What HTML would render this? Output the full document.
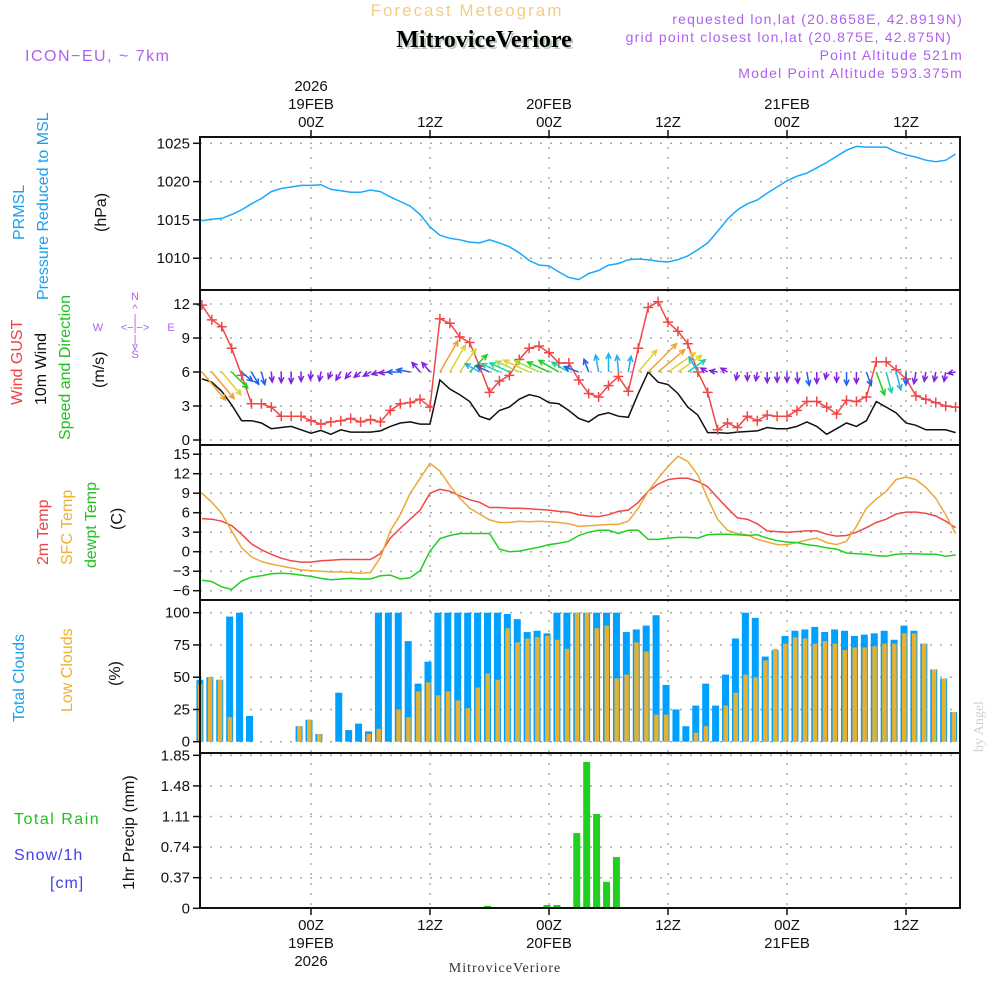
<!DOCTYPE html>
<html><head><meta charset="utf-8"><style>
html,body{margin:0;padding:0;background:#fff;}
svg{display:block;font-family:"Liberation Sans",sans-serif;}
.t{font-size:15px;fill:#111;}
.n{font-family:"Liberation Sans Narrow","Liberation Sans",sans-serif;}
</style></head><body>
<svg id="chart" width="1000" height="1000" viewBox="0 0 1000 1000" xmlns="http://www.w3.org/2000/svg">
<text x="467" y="16" text-anchor="middle" font-size="17" fill="#f5cd85" letter-spacing="2">Forecast Meteogram</text>
<text x="486" y="49" text-anchor="middle" font-size="24" font-weight="bold" font-family="Liberation Serif,serif" fill="#b9cbb9">MitroviceVeriore</text>
<text x="484" y="47" text-anchor="middle" font-size="24" font-weight="bold" font-family="Liberation Serif,serif" fill="#000">MitroviceVeriore</text>
<text x="25" y="61" font-size="16" fill="#b060f0" letter-spacing="1.5">ICON−EU, ~ 7km</text>
<g font-size="14" fill="#b060f0" text-anchor="end" letter-spacing="1.2">
<text x="963" y="24">requested lon,lat (20.8658E, 42.8919N)</text>
<text x="952" y="42">grid point closest lon,lat (20.875E, 42.875N)</text>
<text x="963" y="60">Point Altitude 521m</text>
<text x="963" y="78">Model Point Altitude 593.375m</text>
</g>
<g id="grid"></g><g id="marks"></g><g id="axes"></g>
<g class="n" font-size="16">
<text transform="translate(24,240) rotate(-90)" fill="#1aa0f0">PRMSL</text>
<text transform="translate(48,300) rotate(-90)" fill="#1aa0f0">Pressure Reduced to MSL</text>
<text transform="translate(106,232) rotate(-90)" fill="#111">(hPa)</text>
<text transform="translate(22,405) rotate(-90)" fill="#f04040">Wind GUST</text>
<text transform="translate(46,405) rotate(-90)" fill="#111">10m Wind</text>
<text transform="translate(70,440) rotate(-90)" fill="#20c020">Speed and Direction</text>
<text transform="translate(104,388) rotate(-90)" fill="#111">(m/s)</text>
<text transform="translate(48,565) rotate(-90)" fill="#f04040">2m Temp</text>
<text transform="translate(72,565) rotate(-90)" fill="#f0b030">SFC Temp</text>
<text transform="translate(96,568) rotate(-90)" fill="#20c020">dewpt Temp</text>
<text transform="translate(122,530) rotate(-90)" fill="#111">(C)</text>
<text transform="translate(24,722) rotate(-90)" fill="#1aa0f0">Total Clouds</text>
<text transform="translate(72,712) rotate(-90)" fill="#f0b030">Low Clouds</text>
<text transform="translate(120,686) rotate(-90)" fill="#111">(%)</text>
<text x="14" y="824" fill="#20c020" letter-spacing="1.5">Total  Rain</text>
<text x="14" y="860" fill="#4040f0" letter-spacing="1">Snow/1h</text>
<text x="50" y="888" fill="#4040f0" letter-spacing="1">[cm]</text>
<text transform="translate(134,890) rotate(-90)" fill="#111">1hr Precip (mm)</text>
</g>
<g font-size="11" fill="#b060f0" text-anchor="middle">
<text x="135" y="300">N</text><text x="135" y="312">^</text><text x="135" y="322">|</text>
<text x="98" y="331">W</text><text x="135" y="331">&lt;−|−&gt;</text><text x="171" y="331">E</text>
<text x="135" y="343">|</text><text x="135" y="350">v</text><text x="135" y="358">S</text>
</g>
<text transform="translate(983,752) rotate(-90)" font-size="14" font-family="Liberation Serif,serif" fill="#d0d0d0">by Angel</text>
<text x="505" y="972" text-anchor="middle" font-size="14" font-family="Liberation Serif,serif" fill="#333" letter-spacing="1">MitroviceVeriore</text>
</svg>
<script>
const hours=[];for(let h=-11;h<=65;h++)hours.push(h);
const pressure=[1014.9,1015.1,1015.2,1015.7,1016.3,1017.1,1017.8,1018.7,1019.1,1019.3,1019.5,1019.5,1019.6,1019.0,1018.8,1018.6,1018.6,1018.9,1018.7,1018.0,1017.4,1016.8,1015.7,1014.1,1013.0,1012.6,1012.4,1012.1,1012.0,1012.4,1012.0,1011.5,1010.7,1009.7,1009.1,1009.0,1008.2,1007.5,1007.2,1008.0,1008.4,1009.1,1009.3,1009.8,1009.9,1009.8,1009.6,1009.5,1009.8,1010.3,1011.1,1012.0,1013.5,1015.1,1016.3,1017.1,1017.6,1018.5,1019.3,1020.1,1020.7,1021.1,1021.8,1022.5,1023.3,1024.1,1024.6,1024.5,1024.5,1024.5,1023.9,1023.5,1023.2,1022.8,1022.6,1022.8,1023.6];
const gust=[11.9,10.6,10.0,8.1,5.7,3.2,3.2,2.9,2.1,2.1,2.1,1.7,1.4,1.6,1.7,1.9,1.6,1.8,1.6,2.6,3.2,3.3,3.6,2.9,10.7,10.3,9.1,8.6,6.5,4.2,5.2,5.7,7.1,8.1,8.3,7.7,6.8,6.8,5.3,4.1,3.8,4.8,5.6,4.3,8.1,11.7,12.2,10.4,9.6,8.5,6.0,4.2,0.9,1.5,1.1,2.1,1.7,2.2,2.1,2.1,2.6,3.4,3.4,2.9,2.3,3.5,3.4,3.8,6.9,6.9,6.2,5.4,3.9,3.6,3.3,3.0,2.9];
const wind=[5.4,5.1,4.3,3.1,1.7,1.7,1.5,1.0,1.1,1.2,0.9,0.6,0.85,0.5,0.9,0.7,0.7,0.7,0.8,1.2,1.5,1.6,1.4,1.4,5.3,4.5,4.0,3.4,2.1,1.8,2.6,2.9,3.6,4.0,3.8,3.3,3.2,2.6,1.9,1.6,2.2,2.4,2.1,2.0,4.1,6.0,5.1,4.9,4.1,2.9,2.2,0.65,0.65,0.6,0.7,0.75,0.8,1.1,1.0,1.0,1.2,1.6,1.2,0.5,1.0,1.5,1.2,1.7,3.4,2.9,2.4,1.5,1.3,0.9,0.9,0.9,0.65];
const windDir=[140,140,140,135,130,150,165,175,180,180,180,185,190,200,210,220,230,240,255,265,270,280,320,320,30,30,35,45,300,295,295,295,295,295,295,295,300,300,290,340,350,0,355,10,40,45,50,55,55,55,330,300,280,300,190,180,190,180,180,180,175,170,180,190,180,180,180,160,160,165,165,180,190,190,190,190,260];
const t2m=[5.1,5.0,4.7,4.0,2.7,1.2,0.3,-0.4,-1.0,-1.4,-1.6,-1.6,-1.4,-1.3,-1.2,-1.2,-1.2,-1.2,-0.3,2.1,3.6,5.0,6.4,9.0,9.6,9.3,8.6,8.0,7.6,6.8,6.8,6.7,6.7,6.6,6.5,6.4,6.2,6.1,5.7,5.5,5.4,5.7,6.2,6.4,7.6,9.3,10.4,11.1,11.3,11.3,10.8,10.0,8.3,6.7,5.2,5.0,4.3,3.2,3.1,3.0,3.1,3.2,3.2,2.7,2.4,2.5,3.0,3.7,4.5,5.0,5.8,6.1,6.1,5.9,5.5,4.7,3.7];
const tsfc=[9.0,7.6,5.9,3.2,0.6,-0.8,-1.5,-1.9,-2.2,-2.5,-2.8,-2.9,-3.0,-3.1,-3.1,-3.2,-3.3,-3.2,-0.9,3.2,5.7,9.0,11.3,13.6,12.4,10.2,8.2,6.7,5.8,4.9,4.5,4.5,4.7,4.6,4.7,4.6,4.5,4.3,3.9,4.0,4.1,4.2,4.2,4.7,6.7,9.3,11.3,13.1,14.7,13.9,11.8,8.2,5.0,3.3,2.8,2.6,1.9,1.5,1.1,1.1,1.4,1.8,2.1,1.4,1.1,1.6,3.9,6.7,8.1,9.3,11.1,11.5,11.1,9.9,8.2,5.7,2.8];
const tdew=[-4.4,-4.6,-5.4,-5.8,-4.5,-3.9,-3.7,-3.4,-3.3,-3.4,-3.6,-3.8,-4.1,-4.3,-4.2,-4.1,-4.2,-4.2,-3.7,-3.6,-4.2,-4.0,-2.9,0.1,2.0,2.5,2.8,2.8,2.8,2.8,0.4,0.0,0.1,0.4,0.7,1.1,1.3,1.6,2.5,3.0,3.3,3.3,2.8,3.3,3.3,1.9,1.9,2.1,2.2,2.2,2.1,2.6,2.7,2.7,2.6,2.5,2.6,2.1,1.7,1.5,1.4,1.1,0.9,0.6,0.4,-0.2,-0.3,-0.4,-0.6,-0.7,-0.4,-0.3,-0.3,-0.4,-0.4,-0.7,-0.5];
const totalCloud=[48,50,48,97,100,20,0,0,0,0,12,17,6,0,38,9,14,8,100,100,100,78,45,62,100,100,100,100,100,100,100,99,95,85,86,84,100,100,100,100,100,100,100,85,87,90,98,44,25,12,28,45,28,52,80,100,96,66,71,82,86,87,89,85,87,86,82,83,84,86,79,90,86,76,56,49,23];
const lowCloud=[45,50,48,19,0,0,0,0,0,0,12,17,6,0,0,0,0,6,10,0,25,19,39,46,36,39,32,26,42,53,48,88,77,80,81,82,79,72,100,100,88,90,49,52,77,70,21,21,0,0,7,12,0,28,38,52,50,63,72,76,81,80,76,78,76,71,73,73,74,76,76,84,84,76,56,49,23];
const precip=[0,0,0,0,0,0,0,0,0,0,0,0,0,0,0,0,0,0,0,0,0,0,0,0,0,0,0,0,0,0.03,0,0,0,0,0,0.04,0.04,0.016,0.91,1.77,1.14,0.32,0.62,0,0,0,0,0,0,0,0,0,0,0,0,0,0,0,0,0,0,0,0,0,0,0,0,0,0,0,0,0,0,0,0,0,0];
const pTicks=[1010,1015,1020,1025];
const wTicks=[0,3,6,9,12];
const tTicks=[-6,-3,0,3,6,9,12,15];
const cTicks=[0,25,50,75,100];
const rTicks=["0","0.37","0.74","1.11","1.48","1.85"];
const timeTicks=[0,12,24,36,48,60];
const timeLabels=["00Z","12Z","00Z","12Z","00Z","12Z"];

const NS="http://www.w3.org/2000/svg";
const X0=200,X1=960;
const xh=h=>311+9.917*h;
const yP=p=>143.3+(1025-p)*7.66;
const yW=v=>440-v*11.33;
const yT=t=>551.7-t*6.5;
const yC=c=>741.7-c*1.29;
const yR=r=>908.3-r*82.7;
function mk(par,tag,at){const e=document.createElementNS(NS,tag);for(const k in at)e.setAttribute(k,at[k]);document.getElementById(par).appendChild(e);return e;}
const panels=[[137,290,pTicks,yP],[290,445,wTicks,yW],[445,600,tTicks,yT],[600,753,cTicks,yC],[753,908,rTicks.map(Number),yR]];
// grid
panels.forEach(([top,bot,ticks,f],pi)=>{
  ticks.forEach((v,i)=>{
    const y=f(v);
    const g=mk('grid','line',{x1:X0,x2:X1,y1:y,y2:y,stroke:'#aaa','stroke-width':1.5,'stroke-dasharray':'2,8'});
    
    
    const tk=mk('axes','line',{x1:X0-7,x2:X0,y1:y,y2:y,stroke:'#111','stroke-width':1.5});
    
    
    const tx=mk('axes','text',{x:X0-10,y:y+5,'text-anchor':'end',class:'t'});
    
    
    tx.textContent=pi===4?rTicks[i]:String(v).replace('-','−');
  });
  timeTicks.forEach(h=>{
    const g=mk('grid','line',{x1:xh(h),x2:xh(h),y1:top,y2:bot,stroke:'#aaa','stroke-width':1.5,'stroke-dasharray':'2,8'});
    
    
  });
  const b=mk('axes','line',{x1:X0,x2:X1,y1:top,y2:top,stroke:'#111','stroke-width':2});
  
  
});
const fr=mk('axes','rect',{x:X0,y:137,width:X1-X0,height:771,fill:'none',stroke:'#111','stroke-width':2});


timeTicks.forEach((h,i)=>{
  const x=xh(h);
  [[130,137],[908,915]].forEach(([a,b])=>{const t=mk('axes','line',{x1:x,x2:x,y1:a,y2:b,stroke:'#111','stroke-width':1.5});
    
    });
  const lt=mk('axes','text',{x:x,y:127,'text-anchor':'middle',class:'t'});
  
  
  lt.textContent=timeLabels[i];
  const lb=mk('axes','text',{x:x,y:930,'text-anchor':'middle',class:'t'});
  
  
  lb.textContent=timeLabels[i];
});
[[0,"19FEB",true],[24,"20FEB",false],[48,"21FEB",false]].forEach(([h,d,y])=>{
  const a=mk('axes','text',{x:xh(h),y:109,'text-anchor':'middle',class:'t'});
  
  
  a.textContent=d;
  const b=mk('axes','text',{x:xh(h),y:948,'text-anchor':'middle',class:'t'});
  
  
  b.textContent=d;
  if(y){const c=mk('axes','text',{x:xh(h),y:91,'text-anchor':'middle',class:'t'});
    
    
    c.textContent="2026";
    const e=mk('axes','text',{x:xh(h),y:966,'text-anchor':'middle',class:'t'});
    
    
    e.textContent="2026";}
});
function line(arr,f,col,name){
  const d=arr.map((v,i)=>(i?'L':'M')+xh(hours[i]).toFixed(1)+','+f(v).toFixed(1)).join('');
  const p=mk('marks','path',{d:d,fill:'none',stroke:col,'stroke-width':1.5});
  
  
}
// clouds
hours.forEach((h,i)=>{
  const x=xh(h)-2;
  const b=mk('marks','rect',{x:x-3.5,y:yC(totalCloud[i]),width:7,height:yC(0)-yC(totalCloud[i]),fill:'#00a0ff'});
  
  
  const o=mk('marks','rect',{x:x-2,y:yC(lowCloud[i]),width:4.5,height:yC(0)-yC(lowCloud[i]),fill:'#e8b030'});
  
  
  if(precip[i]>0){const r=mk('marks','rect',{x:xh(h)-5.5,y:yR(precip[i]),width:7,height:yR(0)-yR(precip[i]),fill:'#20d020'});
    
    }
});
line(pressure,yP,'#1aa8ff','pressure-line');
line(wind,yW,'#111','wind-speed-line');
line(gust,yW,'#f04848','wind-gust-line');
line(t2m,yT,'#f04848','temp-2m-line');
line(tsfc,yT,'#eca838','temp-sfc-line');
line(tdew,yT,'#20d020','dewpoint-line');
gust.forEach((v,i)=>{
  const x=xh(hours[i]),y=yW(v);
  const p=mk('marks','path',{d:`M${x-5},${y}H${x+5}M${x},${y-5}V${y+5}`,stroke:'#f04848','stroke-width':1.5});
  
  
});
function wcol(s){return s>=5?'#f0a030':s>=4?'#e0d030':s>=3.5?'#a0e040':s>=3?'#20d020':s>=2.5?'#20d0a0':s>=2?'#20b0f0':s>=1.5?'#2060f0':'#8020e0';}
hours.forEach((h,i)=>{
  const L=4+6*wind[i],a=windDir[i]*Math.PI/180;
  const x0=xh(h),y0=yW(6),x1=x0+L*Math.sin(a),y1=y0-L*Math.cos(a);
  const ha=Math.atan2(y1-y0,x1-x0),hl=6;
  const d=`M${x0},${y0}L${x1},${y1}M${x1-hl*Math.cos(ha-0.45)},${y1-hl*Math.sin(ha-0.45)}L${x1},${y1}L${x1-hl*Math.cos(ha+0.45)},${y1-hl*Math.sin(ha+0.45)}`;
  const p=mk('marks','path',{d:d,fill:'none',stroke:wcol(wind[i]),'stroke-width':1.5});
  
  
});
</script>
</body></html>
